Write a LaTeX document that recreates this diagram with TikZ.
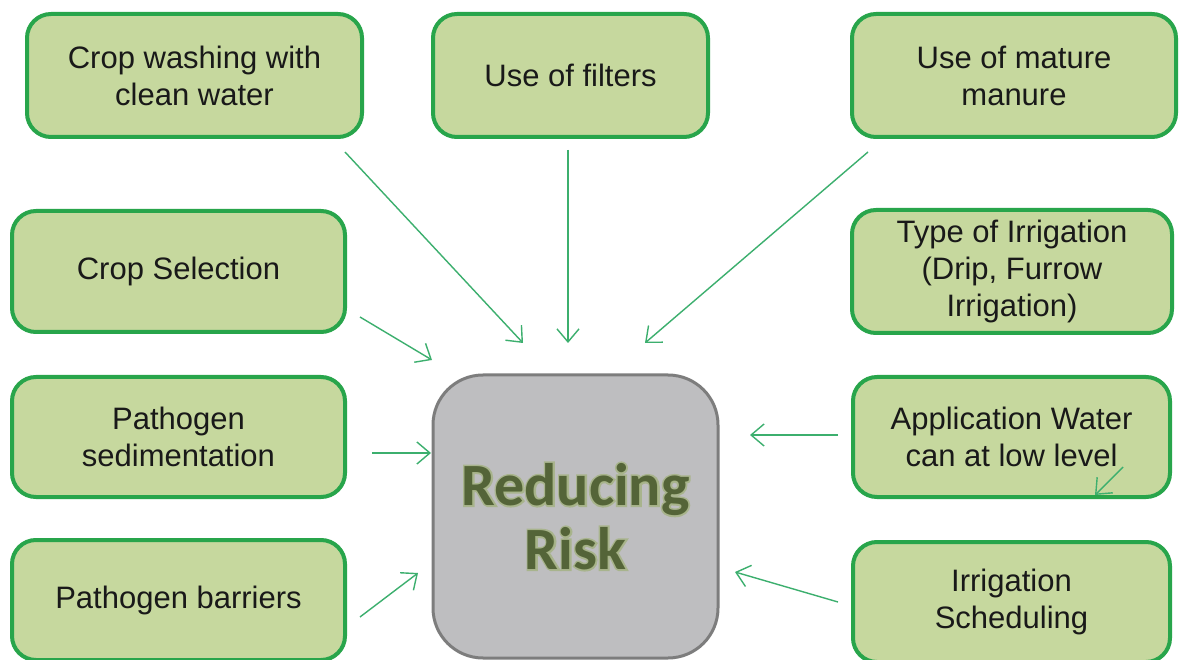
\documentclass[tikz,border=0pt]{standalone}
\usepackage{fontspec}
\setmainfont{Liberation Sans}
\newfontfamily\calib{Carlito}
\newfontfamily\calibglow{Carlito}[BoldFeatures={FakeBold=6}]
\usetikzlibrary{arrows.meta}
\definecolor{boxfill}{RGB}{198,216,158}
\definecolor{boxline}{RGB}{40,165,75}
\definecolor{arrowc}{RGB}{60,175,110}
\definecolor{centerfill}{RGB}{190,190,192}
\definecolor{centerline}{RGB}{125,125,125}
\definecolor{risktext}{RGB}{84,100,56}
\definecolor{riskglow}{RGB}{160,176,120}
\tikzset{
  gbox/.style={draw=boxline, line width=4pt, fill=boxfill, rounded corners=24pt,
    outer sep=0pt, inner sep=0pt, align=center, text=black!90,
    font=\fontsize{31}{37}\selectfont},
  cbox/.style={draw=centerline, line width=3pt, fill=centerfill, rounded corners=50pt,
    outer sep=0pt, inner sep=0pt, minimum width=285pt, minimum height=283pt},
  riskfont/.style={font=\calib\bfseries\fontsize{60}{64}\selectfont, align=center},
  glowfont/.style={font=\calibglow\bfseries\fontsize{60}{64}\selectfont, align=center},
  conn/.style={draw=arrowc, line width=1.4pt, -{Straight Barb[length=13pt,width=22pt,line width=1.4pt]}},
}
\begin{document}
\begin{tikzpicture}[x=1pt,y=-1pt]
\useasboundingbox (0,0) rectangle (1179,660);
\fill[white] (0,0) rectangle (1179,660);

% top row
\node[gbox, minimum width=335pt, minimum height=123pt] (wash) at (194.5,75.5) {Crop washing with\\clean water};
\node[gbox, minimum width=275pt, minimum height=123pt] (filt) at (570.5,75.5) {Use of filters};
\node[gbox, minimum width=324pt, minimum height=123pt] (manure) at (1014,75.5) {Use of mature\\manure};
% left column
\node[gbox, minimum width=333pt, minimum height=121pt] (cropsel) at (178.5,271.5) {Crop Selection};
\node[gbox, minimum width=333pt, minimum height=120pt] (pathsed) at (178.5,437) {Pathogen\\sedimentation};
\node[gbox, minimum width=333pt, minimum height=120pt] (pathbar) at (178.5,600) {Pathogen barriers};
% right column
\node[gbox, minimum width=320pt, minimum height=123pt] (typeirr) at (1012,271.5) {Type of Irrigation\\(Drip, Furrow\\Irrigation)};
\node[gbox, minimum width=317pt, minimum height=120pt] (appw) at (1011.5,437) {Application Water\\can at low level};
\node[gbox, minimum width=317pt, minimum height=120pt] (irrsch) at (1011.5,602) {Irrigation\\Scheduling};

% centre
\node[cbox] (center) at (575.5,516.5) {};
\node[glowfont, text=riskglow, opacity=0.7] (riskglow) at (center.center) {Reducing\\Risk};
\node[riskfont, text=risktext] (risk) at (center.center) {Reducing\\Risk};

% arrow end points
\coordinate (washS) at (345,152);   \coordinate (washE) at (523,343);
\coordinate (filtS) at (568,150);   \coordinate (filtE) at (568,343);
\coordinate (manS) at (868,152);    \coordinate (manE) at (645,343);
\coordinate (csS) at (360,317);     \coordinate (csE) at (432,360);
\coordinate (psS) at (372,453);     \coordinate (psE) at (431,453);
\coordinate (pbS) at (360,617);     \coordinate (pbE) at (418,573);
\coordinate (awS) at (838,435);     \coordinate (awE) at (750,435);
\coordinate (isS) at (838,602);     \coordinate (isE) at (735,572);
\coordinate (awInS) at (1123,467);  \coordinate (awInE) at (1095,495);

\draw[conn] (washS) -- (washE);
\draw[conn] (filtS) -- (filtE);
\draw[conn] (manS) -- (manE);
\draw[conn] (csS) -- (csE);
\draw[conn] (psS) -- (psE);
\draw[conn] (pbS) -- (pbE);
\draw[conn] (awS) -- (awE);
\draw[conn] (isS) -- (isE);
\draw[conn] (awInS) -- (awInE);
\end{tikzpicture}
\end{document}
